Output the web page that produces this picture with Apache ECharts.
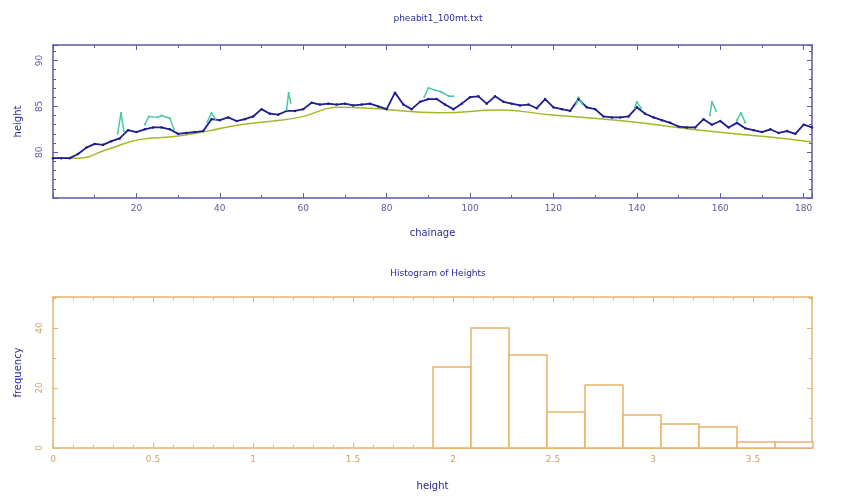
<!DOCTYPE html>
<html>
<head>
<meta charset="utf-8">
<script src="https://cdn.jsdelivr.net/npm/echarts@6/dist/echarts.min.js"></script>
<style>
  html, body { margin: 0; padding: 0; background: #fff; }
  #chart { width: 854px; height: 497px; }
</style>
</head>
<body>
<div id="chart"></div>
<script>
// profile samples (chainage in m, every 2 m)
const chainage = [0, 2, 4, 6, 8, 10, 12, 14, 16, 18, 20, 22, 24, 26, 28, 30, 32, 34, 36, 38,
  40, 42, 44, 46, 48, 50, 52, 54, 56, 58, 60, 62, 64, 66, 68, 70, 72, 74, 76, 78,
  80, 82, 84, 86, 88, 90, 92, 94, 96, 98, 100, 102, 104, 106, 108, 110, 112, 114, 116, 118,
  120, 122, 124, 126, 128, 130, 132, 134, 136, 138, 140, 142, 144, 146, 148, 150, 152, 154, 156, 158,
  160, 162, 164, 166, 168, 170, 172, 174, 176, 178, 180, 182];
const surface = [79.35, 79.35, 79.35, 79.8, 80.5, 80.9, 80.8, 81.2, 81.5, 82.4,
  82.2, 82.5, 82.7, 82.7, 82.5, 82.0, 82.1, 82.2, 82.3, 83.6,
  83.5, 83.8, 83.4, 83.6, 83.9, 84.7, 84.2, 84.1, 84.5, 84.5,
  84.7, 85.4, 85.2, 85.3, 85.2, 85.3, 85.1, 85.2, 85.3, 85.0,
  84.7, 86.5, 85.2, 84.7, 85.5, 85.8, 85.8, 85.2, 84.7, 85.3,
  86.0, 86.1, 85.3, 86.1, 85.5, 85.3, 85.1, 85.2, 84.8, 85.8,
  84.9, 84.7, 84.5, 85.8, 84.9, 84.7, 83.9, 83.8, 83.8, 83.9,
  84.9, 84.2, 83.8, 83.5, 83.2, 82.8, 82.7, 82.7, 83.6, 83.0,
  83.4, 82.7, 83.2, 82.6, 82.4, 82.2, 82.5, 82.1, 82.3, 82.0,
  83.0, 82.7];

// ground line
const groundX = [0, 6, 13, 21, 29, 37, 45, 53, 59, 69, 76, 93, 107, 119, 137, 157, 173, 182];
const groundY = [79.35, 79.35, 80.3, 81.4, 81.7, 82.3, 83.0, 83.4, 83.8, 84.9, 84.8, 84.3, 84.6, 84.1, 83.4, 82.3, 81.6, 81.1];

// high points (null = gap)
const highX = [15.5, 16.3, 17, 17, 22, 23, 25, 26, 28, 29, 29, 37, 38, 39, 39, 56, 56.5, 57, 57,
  89, 90, 91.5, 93, 95, 96, 96, 125.5, 126, 127, 127, 139.5, 140, 141, 141,
  157.5, 158, 159, 159, 164, 165, 166];
const highY = [82.0, 84.3, 82.3, null, 83.0, 83.9, 83.8, 84.0, 83.7, 82.5, null, 83.3, 84.3, 83.6, null, 84.6, 86.5, 85.4, null,
  86.0, 87.0, 86.8, 86.6, 86.1, 86.1, null, 85.3, 86.0, 85.2, null, 84.8, 85.5, 84.8, null,
  84.0, 85.5, 84.5, null, 83.5, 84.3, 83.2];

// histogram
const binStart = [1.9, 2.09, 2.28, 2.47, 2.66, 2.85, 3.04, 3.23, 3.42, 3.61];
const binEnd = [2.09, 2.28, 2.47, 2.66, 2.85, 3.04, 3.23, 3.42, 3.61, 3.80];
const binCount = [27, 40, 31, 12, 21, 11, 8, 7, 2, 2];

const topTitle = 'pheabit1_100mt.txt';
const bottomTitle = 'Histogram of Heights';

const blue = '#2a2a9a';
const blueAxis = '#5a5aa8';
const tan = '#e6b46a';
const tanText = '#c9a56a';
const font = 'DejaVu Sans';

const chart = echarts.init(document.getElementById('chart'));

// axis with ticks, used for all four sides of each box
function boxAxis(color, grid, pos, min, max, interval, minorSplit) {
  return {
    type: 'value', gridIndex: grid, position: pos, min: min, max: max, interval: interval,
    axisLine: { show: true, onZero: false, lineStyle: { color: color, width: 1.5 } },
    axisTick: { show: true, inside: true, length: 5, lineStyle: { color: color } },
    minorTick: { show: true, splitNumber: minorSplit, length: 3, lineStyle: { color: color } },
    axisLabel: { show: false },
    splitLine: { show: false }
  };
}

const xTop = boxAxis(blueAxis, 0, 'bottom', 0, 182, 20, 2);
xTop.name = 'chainage';
xTop.nameLocation = 'middle';
xTop.nameGap = 30;
xTop.nameTextStyle = { fontFamily: font, fontSize: 10, color: blue };
xTop.axisLabel = { show: true, showMinLabel: false, showMaxLabel: false, margin: 6,
  fontFamily: font, fontSize: 9, color: blueAxis };

const xBot = boxAxis(tan, 1, 'bottom', 0, 3.795, 0.5, 5);
xBot.name = 'height';
xBot.nameLocation = 'middle';
xBot.nameGap = 33;
xBot.nameTextStyle = { fontFamily: font, fontSize: 10, color: '#1e1e8a' };
xBot.axisLabel = { show: true, showMaxLabel: false, margin: 7,
  fontFamily: font, fontSize: 9, color: tanText };

const yTop = boxAxis(blueAxis, 0, 'left', 75, 91.7, 5, 5);
yTop.name = 'height';
yTop.nameLocation = 'middle';
yTop.nameGap = 30;
yTop.nameTextStyle = { fontFamily: font, fontSize: 10, color: blue };
yTop.axisLabel = { show: true, showMinLabel: false, showMaxLabel: false, rotate: 90, margin: 9,
  fontFamily: font, fontSize: 9, color: blueAxis };

const yBot = boxAxis(tan, 1, 'left', 0, 50.3, 20, 2);
yBot.name = 'frequency';
yBot.nameLocation = 'middle';
yBot.nameGap = 30;
yBot.nameTextStyle = { fontFamily: font, fontSize: 10, color: blue };
yBot.axisLabel = { show: true, showMaxLabel: false, rotate: 90, margin: 9,
  fontFamily: font, fontSize: 9, color: tanText };

const option = {
  animation: false,
  backgroundColor: '#fff',
  title: [
    { text: topTitle, left: 433, top: 9, textAlign: 'center',
      textStyle: { fontFamily: font, fontSize: 9, fontWeight: 'normal', color: blue } },
    { text: bottomTitle, left: 433, top: 264, textAlign: 'center',
      textStyle: { fontFamily: font, fontSize: 9, fontWeight: 'normal', color: blue } }
  ],
  grid: [
    { left: 53, right: 42, top: 45, height: 153 },
    { left: 53, right: 42, top: 297, height: 151 }
  ],
  xAxis: [
    xTop,
    xBot,
    boxAxis(blueAxis, 0, 'top', 0, 182, 20, 2),
    boxAxis(tan, 1, 'top', 0, 3.795, 0.5, 5)
  ],
  yAxis: [
    yTop,
    yBot,
    boxAxis(blueAxis, 0, 'right', 75, 91.7, 5, 5),
    boxAxis(tan, 1, 'right', 0, 50.3, 20, 2)
  ],
  series: [
    {
      type: 'line', xAxisIndex: 0, yAxisIndex: 0, smooth: true, showSymbol: false,
      lineStyle: { color: '#a4b82a', width: 1.5 },
      data: groundX.map((x, i) => [x, groundY[i]])
    },
    {
      type: 'line', xAxisIndex: 0, yAxisIndex: 0, showSymbol: true, symbol: 'circle', symbolSize: 2.5,
      itemStyle: { color: '#1e1e8e' }, lineStyle: { color: '#1e1e8e', width: 1.8 },
      data: chainage.map((x, i) => [x, surface[i]])
    },
    {
      type: 'line', xAxisIndex: 0, yAxisIndex: 0, showSymbol: true, symbol: 'circle', symbolSize: 2,
      connectNulls: false,
      itemStyle: { color: '#4cc8a8' }, lineStyle: { color: '#4cc8a8', width: 1.5 },
      data: highX.map((x, i) => [x, highY[i] === null ? '-' : highY[i]])
    },
    {
      type: 'custom', xAxisIndex: 1, yAxisIndex: 1,
      data: binStart.map((s, i) => [s, binEnd[i], binCount[i]]),
      encode: { x: [0, 1], y: 2 },
      renderItem: function (params, api) {
        const p0 = api.coord([api.value(0), api.value(2)]);
        const p1 = api.coord([api.value(1), 0]);
        return {
          type: 'rect',
          shape: { x: p0[0], y: p0[1], width: p1[0] - p0[0], height: p1[1] - p0[1] },
          style: { fill: '#fff', stroke: tan, lineWidth: 1.5 }
        };
      }
    }
  ]
};

chart.setOption(option);
</script>
</body>
</html>
